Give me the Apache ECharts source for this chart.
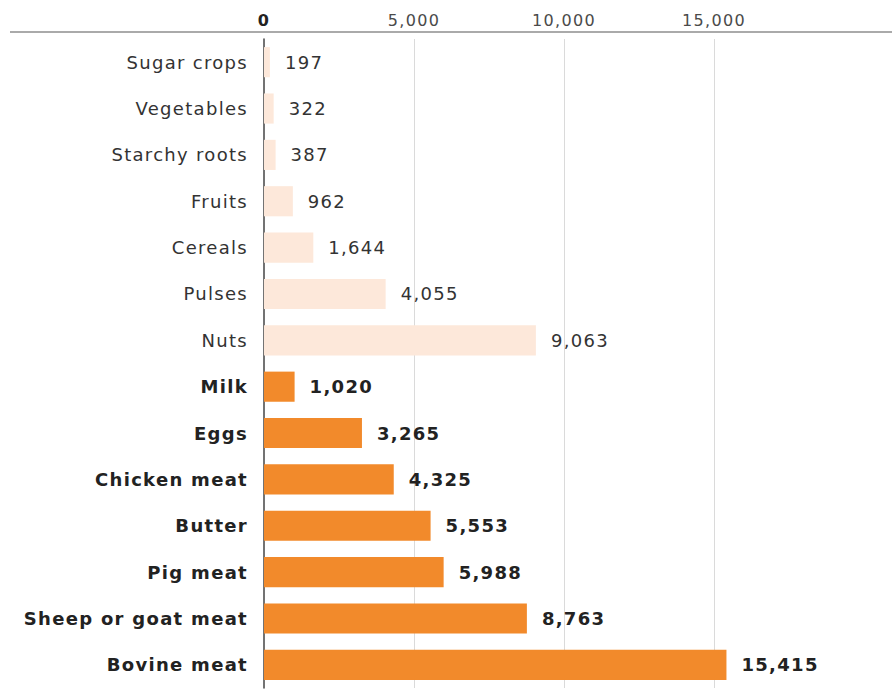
<!DOCTYPE html>
<html>
<head>
<meta charset="utf-8">
<script src="https://cdn.jsdelivr.net/npm/echarts@6/dist/echarts.min.js"></script>
<style>
  html, body { margin: 0; padding: 0; background: #fff; }
  #chart { width: 892px; height: 693px; }
  /* slightly airy lettering for all chart text */
  #chart svg text { letter-spacing: 1.3px; }
</style>
</head>
<body>
<div id="chart"></div>
<script>
// Food products, top to bottom
const categories = [
  'Sugar crops', 'Vegetables', 'Starchy roots', 'Fruits', 'Cereals', 'Pulses', 'Nuts',
  'Milk', 'Eggs', 'Chicken meat', 'Butter', 'Pig meat', 'Sheep or goat meat', 'Bovine meat'
];
const values = [197, 322, 387, 962, 1644, 4055, 9063, 1020, 3265, 4325, 5553, 5988, 8763, 15415];
// Animal products are highlighted
const animal = [false, false, false, false, false, false, false, true, true, true, true, true, true, true];
const xTicks = [0, 5000, 10000, 15000];

const FONT = 'DejaVu Sans';
const LIGHT = '#fde8da';
const DARK = '#f28a2b';

const fmt = v => v.toLocaleString('en-US');

const chart = echarts.init(document.getElementById('chart'), null, { renderer: 'svg' });
chart.setOption({
  animation: false,
  backgroundColor: '#ffffff',
  grid: { left: 264, right: 28, top: 39, bottom: 5 },
  xAxis: {
    type: 'value',
    position: 'top',
    min: 0,
    max: 20000,
    interval: 5000,
    axisLine: { show: false },
    axisTick: { show: false },
    axisLabel: {
      margin: 11,
      fontFamily: FONT,
      fontSize: 16,
      color: '#4a4a4a',
      formatter: v => {
        if (!xTicks.includes(v)) return '';
        return v === 0 ? '{z|0}' : fmt(v);
      },
      rich: { z: { fontFamily: FONT, fontSize: 16, fontWeight: 'bold', color: '#222' } }
    },
    splitLine: {
      show: true,
      lineStyle: { color: ['rgba(0,0,0,0)', '#dadada', '#dadada', '#dadada', 'rgba(0,0,0,0)'], width: 1 }
    }
  },
  yAxis: {
    type: 'category',
    data: categories,
    inverse: true,
    axisLine: { show: true, lineStyle: { color: '#444', width: 1.5 } },
    axisTick: { show: false },
    axisLabel: {
      margin: 16,
      fontFamily: FONT,
      fontSize: 18,
      formatter: (v, i) => animal[i] ? '{b|' + v + '}' : '{n|' + v + '}',
      rich: {
        n: { fontFamily: FONT, fontSize: 18, color: '#333' },
        b: { fontFamily: FONT, fontSize: 18, fontWeight: 'bold', color: '#222' }
      }
    }
  },
  graphic: [{
    type: 'line',
    shape: { x1: 10, y1: 32, x2: 892, y2: 32 },
    style: { stroke: '#aaaaaa', lineWidth: 2 },
    z: 10
  }],
  series: [{
    type: 'bar',
    barCategoryGap: '35%',
    data: values.map((v, i) => ({
      value: v,
      itemStyle: { color: animal[i] ? DARK : LIGHT },
      label: animal[i]
        ? { fontWeight: 'bold', color: '#222' }
        : { fontWeight: 'normal', color: '#333' }
    })),
    label: {
      show: true,
      position: 'right',
      distance: 15,
      fontFamily: FONT,
      fontSize: 18,
      formatter: p => fmt(p.value)
    }
  }]
});
</script>
</body>
</html>
